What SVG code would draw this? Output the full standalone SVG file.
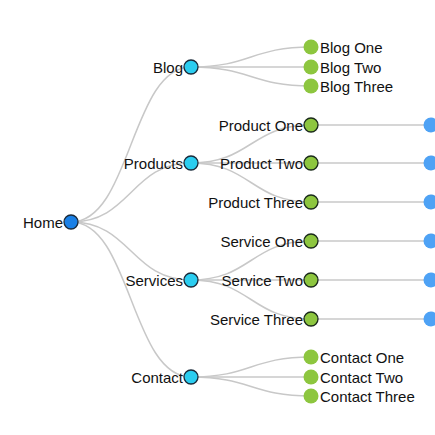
<svg xmlns="http://www.w3.org/2000/svg" width="435" height="435" viewBox="0 0 435 435">
<style>
.link{fill:none;stroke:#c8c8c8;stroke-width:1.5}
text{font-family:"Liberation Sans",Arial,sans-serif;font-size:15px;fill:#111}
.l{text-anchor:end}
.root{fill:#1a80e6;stroke:#1a2a3a;stroke-width:1.3}
.l1{fill:#2bcdf0;stroke:#1a2a3a;stroke-width:1.3}
.l2s{fill:#8dc63f;stroke:#1a2a1a;stroke-width:1.3}
.l2{fill:#8dc63f}
.l3{fill:#4ea2f5}
</style>
<rect width="435" height="435" fill="#fff"/>
<g id="connectors">
<path class="link" d="M71,222C131,222 131,67 191,67"/>
<path class="link" d="M71,222C131,222 131,163 191,163"/>
<path class="link" d="M71,222C131,222 131,280 191,280"/>
<path class="link" d="M71,222C131,222 131,377 191,377"/>
<path class="link" d="M191,67C251,67 251,47 311,47"/>
<path class="link" d="M191,67C251,67 251,67 311,67"/>
<path class="link" d="M191,67C251,67 251,86 311,86"/>
<path class="link" d="M191,163C251,163 251,125 311,125"/>
<path class="link" d="M191,163C251,163 251,163 311,163"/>
<path class="link" d="M191,163C251,163 251,202 311,202"/>
<path class="link" d="M191,280C251,280 251,241 311,241"/>
<path class="link" d="M191,280C251,280 251,280 311,280"/>
<path class="link" d="M191,280C251,280 251,319 311,319"/>
<path class="link" d="M191,377C251,377 251,357 311,357"/>
<path class="link" d="M191,377C251,377 251,377 311,377"/>
<path class="link" d="M191,377C251,377 251,396 311,396"/>
<path class="link" d="M311,125H431"/>
<path class="link" d="M311,163H431"/>
<path class="link" d="M311,202H431"/>
<path class="link" d="M311,241H431"/>
<path class="link" d="M311,280H431"/>
<path class="link" d="M311,319H431"/>
</g>
<g id="home"><circle class="root" cx="71" cy="222" r="7"/><text class="l" x="63" y="228">Home</text></g>
<g id="blog"><circle class="l1" cx="191" cy="67" r="7"/><text class="l" x="183" y="73">Blog</text></g>
<g id="products"><circle class="l1" cx="191" cy="163" r="7"/><text class="l" x="183" y="169">Products</text></g>
<g id="services"><circle class="l1" cx="191" cy="280" r="7"/><text class="l" x="183" y="286">Services</text></g>
<g id="contact"><circle class="l1" cx="191" cy="377" r="7"/><text class="l" x="183" y="383">Contact</text></g>
<g id="blog-one"><circle class="l2" cx="311" cy="47" r="7.5"/><text x="320" y="53">Blog One</text></g>
<g id="blog-two"><circle class="l2" cx="311" cy="67" r="7.5"/><text x="320" y="73">Blog Two</text></g>
<g id="blog-three"><circle class="l2" cx="311" cy="86" r="7.5"/><text x="320" y="92">Blog Three</text></g>
<g id="product-one"><circle class="l2s" cx="311" cy="125" r="7"/><text class="l" x="303" y="131">Product One</text></g>
<g id="product-two"><circle class="l2s" cx="311" cy="163" r="7"/><text class="l" x="303" y="169">Product Two</text></g>
<g id="product-three"><circle class="l2s" cx="311" cy="202" r="7"/><text class="l" x="303" y="208">Product Three</text></g>
<g id="service-one"><circle class="l2s" cx="311" cy="241" r="7"/><text class="l" x="303" y="247">Service One</text></g>
<g id="service-two"><circle class="l2s" cx="311" cy="280" r="7"/><text class="l" x="303" y="286">Service Two</text></g>
<g id="service-three"><circle class="l2s" cx="311" cy="319" r="7"/><text class="l" x="303" y="325">Service Three</text></g>
<g id="contact-one"><circle class="l2" cx="311" cy="357" r="7.5"/><text x="320" y="363">Contact One</text></g>
<g id="contact-two"><circle class="l2" cx="311" cy="377" r="7.5"/><text x="320" y="383">Contact Two</text></g>
<g id="contact-three"><circle class="l2" cx="311" cy="396" r="7.5"/><text x="320" y="402">Contact Three</text></g>
<g id="p1-child"><circle class="l3" cx="431" cy="125" r="7.5"/></g>
<g id="p2-child"><circle class="l3" cx="431" cy="163" r="7.5"/></g>
<g id="p3-child"><circle class="l3" cx="431" cy="202" r="7.5"/></g>
<g id="s1-child"><circle class="l3" cx="431" cy="241" r="7.5"/></g>
<g id="s2-child"><circle class="l3" cx="431" cy="280" r="7.5"/></g>
<g id="s3-child"><circle class="l3" cx="431" cy="319" r="7.5"/></g>
</svg>
